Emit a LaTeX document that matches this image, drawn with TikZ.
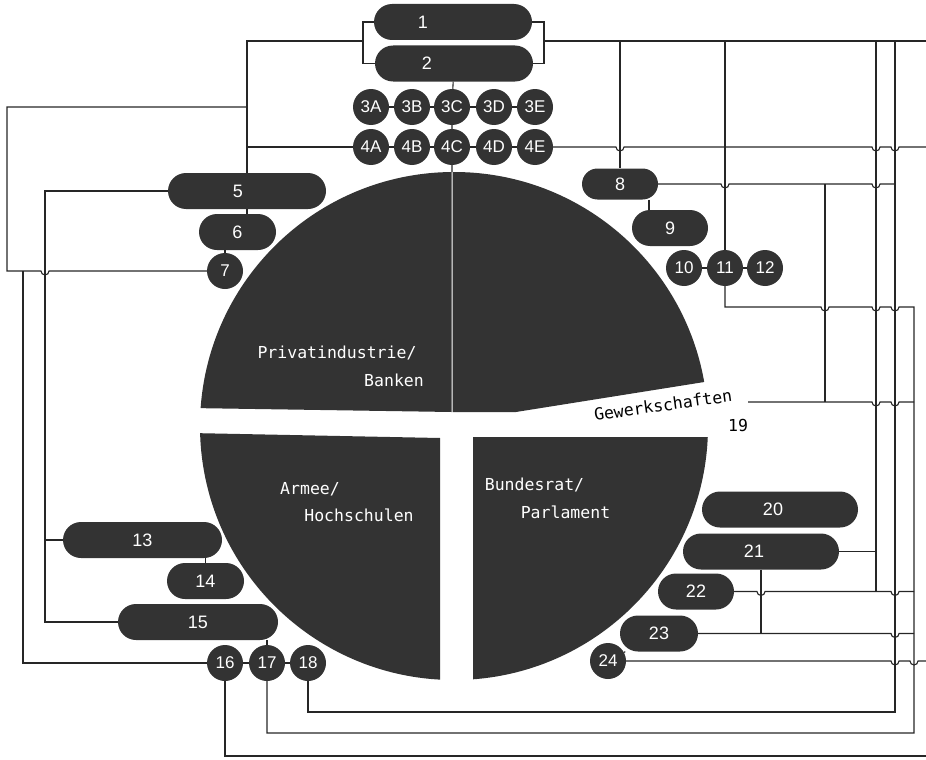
\documentclass[tikz,border=0pt]{standalone}
\usepackage{fontspec}
\setmainfont{Liberation Sans}
\newfontfamily\monofnt{DejaVu Sans Mono}
\newcommand{\hopx}[2]{-- (#1-4,#2) arc[start angle=180,end angle=0,radius=4]}

\begin{document}
\begin{tikzpicture}[x=1pt,y=-1pt,
  wire/.style={line width=1.1pt,draw=black!85},
  pill/.style={rectangle,rounded corners=18pt,fill=black!80,text=white,minimum height=36pt,inner sep=0pt,font=\fontsize{18}{18}\selectfont},
  dot/.style={circle,fill=black!80,text=white,minimum size=36pt,inner sep=0pt,font=\fontsize{17}{17}\selectfont},
  pielabel/.style={text=white,inner sep=0pt,font=\monofnt\fontsize{16.5}{18}\selectfont}]
\useasboundingbox (0,0) rectangle (926,760);
% pie
\begin{scope}
\clip (454,426) circle (254);
\fill[black!80] (190,160) -- (451.5,160) -- (451.5,412) -- (190,408) -- cycle;
\fill[black!80] (452.5,160) -- (720,160) -- (720,379.5) -- (516,412) -- (452.5,412) -- cycle;
\fill[black!80] (190,433) -- (440,438) -- (440,690) -- (190,690) -- cycle;
\fill[black!80] (473,437) -- (720,437) -- (720,690) -- (473,690) -- cycle;
\end{scope}
\node[pielabel] (priv) at (337,353) {Privatindustrie/};
\node[pielabel] (bank) at (394,380) {Banken};
\node[pielabel] (armee) at (310,489) {Armee/};
\node[pielabel] (hoch) at (359,515) {Hochschulen};
\node[pielabel] (bund) at (534.5,485) {Bundesrat/};
\node[pielabel] (parl) at (565.5,512) {Parlament};
\node[pielabel,text=black,rotate=8] (gew) at (663,405) {Gewerkschaften};
\node[pielabel,text=black] (n19) at (738,425) {19};

% top
\node[pill,minimum width=158pt] (p1) at (453,22) {1\hspace*{60pt}};
\node[pill,minimum width=158pt] (p2) at (454,63.5) {2\hspace*{54pt}};
\foreach \n/\x/\t in {a/371/A,b/412/B,c/452/C,d/494/D,e/535/E}{
  \node[dot] (\n3) at (\x,107) {3\t};
  \node[dot] (\n4) at (\x,147) {4\t};
}
% left
\node[pill,minimum width=158pt] (p5) at (247,191) {5\hspace*{18pt}};
\node[pill,minimum width=77pt] (p6) at (237.5,232) {6};
\node[dot] (c7) at (225,271) {7};
\node[pill,minimum width=159pt] (p13) at (142.5,540) {13};
\node[pill,minimum width=77pt] (p14) at (205.5,581) {14};
\node[pill,minimum width=160pt] (p15) at (198,622) {15};
\node[dot] (c16) at (225,663) {16};
\node[dot] (c17) at (267,663) {17};
\node[dot] (c18) at (308,663) {18};
% right
\node[pill,minimum width=76pt,minimum height=31pt,rounded corners=15.5pt] (p8) at (620,184) {8};
\node[pill,minimum width=76pt] (p9) at (670,228) {9};
\node[dot] (c10) at (684,268) {10};
\node[dot] (c11) at (725,268) {11};
\node[dot] (c12) at (765,268) {12};
\node[pill,minimum width=156pt] (p20) at (780,509.5) {20\hspace*{14pt}};
\node[pill,minimum width=156pt] (p21) at (761,551.5) {21\hspace*{14pt}};
\node[pill,minimum width=76pt] (p22) at (696,591.5) {22};
\node[pill,minimum width=78pt] (p23) at (659,633.5) {23};
\node[dot] (c24) at (608,661) {24};

\coordinate (jl) at (363,41);
\coordinate (jr) at (544,41);
\coordinate (jt) at (247,107);
\coordinate (j4) at (247,147);
\coordinate (j16) at (23,271);
\coordinate (j13) at (45,540);
\coordinate (ptop) at (452,172);
\coordinate (t8) at (620,41);
\coordinate (t11) at (725,41);
\coordinate (t21) at (876,41);
\coordinate (t18) at (895,41);
\coordinate (k8) at (895,184);
\coordinate (v1) at (825,184);
\coordinate (g1) at (825,402);
\coordinate (g19) at (748,402);
\coordinate (k19) at (914,402);
\coordinate (k22) at (876,591.5);
\coordinate (k22r) at (914,591.5);
\coordinate (k23) at (914,633.5);
\coordinate (out1) at (926,41);
\coordinate (out4) at (926,147);
\coordinate (out24) at (926,661);
\coordinate (out16) at (926,756);

% short links
\draw[wire] (a3) -- (b3) -- (c3) -- (d3) -- (e3);
\draw[wire] (a4) -- (b4) -- (c4) -- (d4) -- (e4);
\draw[wire] (p2) -- (c3) -- (c4) -- (ptop);
\draw[wire] (c10) -- (c11) -- (c12);
\draw[wire] (c16) -- (c17) -- (c18);
\draw[wire] (p5.south) -- (p5.south |- p6.north);
\draw[wire] (c7) -- (c7 |- p6.south);
\draw[wire] ([xshift=29pt]p8.south) -- ([xshift=-21pt]p9.north);
\draw[wire] (p14.north) -- (p14.north |- p13.south);
\draw[wire] (c17) -- (c17 |- p15.south);
\draw[wire] (c24) -- (p23);

% left wiring
\draw[wire] (p1.west) -| (jl) |- (p2.west);
\draw[wire] (jl) -| (p5);
\draw[wire] (jt) -| (7,271) \hopx{45}{271} -- (c7);
\draw[wire] (j4) -- (a4);
\draw[wire] (j16) |- (c16);
\draw[wire] (p5.west) -| (45,622) -- (p15.west);
\draw[wire] (j13) -- (p13.west);

% right wiring
\draw[wire] (p1.east) -| (jr) |- (p2.east);
\draw[wire] (jr) -- (out1);
\draw[wire] (t8) -- (p8);
\draw[wire] (t11) -- (c11);
\draw[wire] (t21) -- (k22);
\draw[wire] (t18) -- (895,712) -| (c18);
\draw[wire] (e4) \hopx{620}{147} \hopx{876}{147} \hopx{895}{147} -- (out4);
\draw[wire] (p8) \hopx{725}{184} \hopx{876}{184} -- (k8);
\draw[wire] (v1) -- (g1);
\draw[wire] (c11) -- (725,307) \hopx{825}{307} \hopx{876}{307} \hopx{895}{307} -- (914,307) -- (914,733) -| (c17);
\draw[wire] (g19) \hopx{876}{402} \hopx{895}{402} -- (k19);
\draw[wire] (p21.east) -- (p21.east -| t21);
\draw[wire] (p21) -- (p21 |- p23);
\draw[wire] (p22) \hopx{761}{591.5} -- (k22) \hopx{895}{591.5} -- (k22r);
\draw[wire] (p23) \hopx{895}{633.5} -- (k23);
\draw[wire] (c24) \hopx{895}{661} \hopx{914}{661} -- (out24);
\draw[wire] (c16) |- (out16);
\end{tikzpicture}
\end{document}
